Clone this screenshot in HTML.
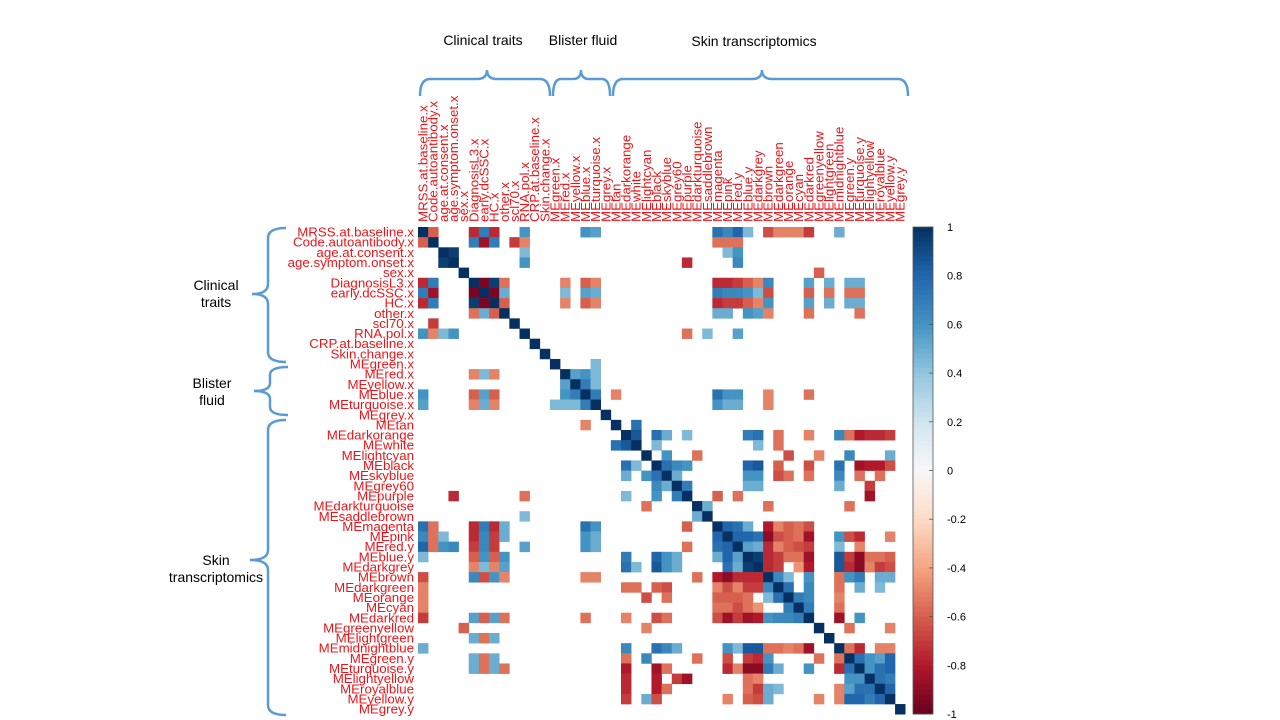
<!DOCTYPE html>
<html><head><meta charset="utf-8">
<style>
html,body{margin:0;padding:0;background:#fff;}
body{width:1280px;height:720px;overflow:hidden;position:relative;font-family:"Liberation Sans",sans-serif;}
svg{position:absolute;left:0;top:0;}
.ann{font-family:"Liberation Sans",sans-serif;font-size:14px;fill:#000;}
</style></head>
<body>
<svg id="chart" width="1280" height="720" viewBox="0 0 1280 720">
  <g id="cells"></g>
  <g id="rowlabels"></g>
  <g id="collabels"></g>
  <g id="colorbar"></g>
  <g fill="none" stroke="#5B9BD5" stroke-width="2.5">
    <path d="M420,96 Q420,79 430,79 L477,79 Q487,79 487,70 Q487,79 497,79 L540,79 Q550,79 550,96"/>
    <path d="M553,96 Q553,79 561,79 L573,79 Q581,79 581,70 Q581,79 589,79 L602,79 Q610,79 610,96"/>
    <path d="M613,96 Q613,79 623,79 L752,79 Q762,79 762,70 Q762,79 772,79 L898,79 Q908,79 908,96"/>
    <path d="M286,228 Q268,228 268,238 L268,284 Q268,294 252,294 Q268,294 268,304 L268,352 Q268,362 286,362"/>
    <path d="M288,367 Q270,367 270,375 L270,383 Q270,391 254,391 Q270,391 270,399 L270,407 Q270,415 288,415"/>
    <path d="M286,420 Q268,420 268,430 L268,550 Q268,560 250,560 Q268,560 268,570 L268,705 Q268,715 286,715"/>
  </g>
  <text class="ann" x="483" y="45" text-anchor="middle">Clinical traits</text>
  <text class="ann" x="583" y="45" text-anchor="middle">Blister fluid</text>
  <text class="ann" x="754" y="46" text-anchor="middle">Skin transcriptomics</text>
  <text class="ann" x="216" y="290" text-anchor="middle">Clinical<tspan x="216" dy="17">traits</tspan></text>
  <text class="ann" x="212" y="388" text-anchor="middle">Blister<tspan x="212" dy="17">fluid</tspan></text>
  <text class="ann" x="216" y="565" text-anchor="middle">Skin<tspan x="216" dy="17">transcriptomics</tspan></text>
</svg>
<script>
const labels = ["MRSS.at.baseline.x","Code.autoantibody.x","age.at.consent.x","age.symptom.onset.x","sex.x","DiagnosisL3.x","early.dcSSC.x","HC.x","other.x","scl70.x","RNA.pol.x","CRP.at.baseline.x","Skin.change.x",
"MEgreen.x","MEred.x","MEyellow.x","MEblue.x","MEturquoise.x","MEgrey.x",
"MEtan","MEdarkorange","MEwhite","MElightcyan","MEblack","MEskyblue","MEgrey60","MEpurple","MEdarkturquoise","MEsaddlebrown","MEmagenta","MEpink","MEred.y","MEblue.y","MEdarkgrey","MEbrown","MEdarkgreen","MEorange","MEcyan","MEdarkred","MEgreenyellow","MElightgreen","MEmidnightblue","MEgreen.y","MEturquoise.y","MElightyellow","MEroyalblue","MEyellow.y","MEgrey.y"];
const rowIdx = [0,0,0,0,0,0,0,0,0,0,0,0,0,0,0,0,0, 1,1,1,1,1,1,1,1, 2,2,2,2, 3,3,3, 4, 5,5,5,5,5,5,5,5,5,5,5,5,5,5,5,5, 6,6,6,6,6,6,6,6,6,6,6,6,6,6,6, 7,7,7,7,7,7,7,7,7,7,7,7,7,7, 8,8,8,8,8,8,8, 10,10,10,
13,14,14,14,15,15,16,16,16,16,16,16,16,17,17,17,17,
19,20,20,20,20,20,20,20,20,20,20,20,20,20,20, 21,21,21, 22,22,22,22,22,22, 23,23,23,23,23,23,23,23,23,23,23,23, 24,24,24,24,24,24,24,24,24, 25,25,25,25,25, 26,26,26, 27,27,27,
29,29,29,29,29,29,29,29, 30,30,30,30,30,30,30,30,30,30,30,30, 31,31,31,31,31,31,31,31,31, 32,32,32,32,32,32,32,32,32,32,32,32, 33,33,33,33,33,33,33,33,33,33, 34,34,34,34,34,34,34,34, 35,35,35,35,35, 36,36,36, 37,37, 38,38, 39,39, 41,41,41,41, 42,42,42,42, 43,43,43, 44,44, 45];
const colIdx = [1,5,6,7,10,16,17,29,30,31,32,34,35,36,37,38,41, 5,6,7,9,10,29,30,31, 3,10,30,31, 10,26,31, 39, 6,7,8,14,16,17,29,30,31,32,33,34,38,40,42,43, 7,8,14,16,17,29,30,31,32,33,34,38,40,42,43, 8,14,16,17,29,30,31,32,33,34,38,40,42,43, 29,30,32,33,34,38,43, 26,28,31,
17,15,16,17,16,17,17,19,29,30,31,34,38,29,30,31,34,
21,21,23,24,26,32,33,35,38,41,42,43,44,45,46, 23,33,35, 24,27,36,39,42,46, 24,25,26,32,33,35,38,41,43,44,45,46, 25,32,33,35,36,38,41,43,45, 26,32,33,41,44, 29,31,44, 28,34,42,
30,31,32,34,35,36,37,38, 31,32,33,34,35,36,37,38,41,42,43,46, 32,33,34,35,36,37,38,41,43, 33,34,35,36,37,38,41,42,43,44,45,46, 34,35,37,38,41,42,43,44,45,46, 35,36,38,41,42,43,45,46, 36,38,41,43,45, 37,38,41, 38,41, 41,43, 42,46, 42,43,45,46, 43,44,45,46, 44,45,46, 45,46, 46];
const corrVals = [-0.6,-0.75,0.7,-0.75,0.6,0.6,0.55,0.75,0.65,0.8,0.45,-0.65,-0.5,-0.5,-0.5,-0.7,0.5, 0.7,-0.85,0.7,-0.7,-0.5,-0.55,-0.55,-0.55, 0.95,0.45,0.45,0.6, 0.6,-0.75,0.65, -0.6,
-0.95,0.95,-0.55,-0.5,-0.6,-0.5,-0.75,-0.75,-0.7,-0.6,-0.5,0.65,0.55,0.5,0.5,0.5,
-0.95,0.5,0.45,0.55,0.5,0.7,0.65,0.65,0.6,0.45,-0.65,-0.6,-0.55,-0.55,-0.55,
-0.6,-0.5,-0.6,-0.5,-0.75,-0.7,-0.7,-0.6,-0.5,0.6,0.55,0.5,0.5,0.5,
0.5,0.5,0.6,0.55,-0.5,-0.55,-0.55, -0.55,0.45,0.55,
0.45,0.55,0.6,0.45,0.7,0.45,0.7,-0.5,0.75,0.6,0.6,-0.5,-0.55,0.6,0.5,0.5,-0.5,
0.75,0.85,0.75,0.5,0.45,0.7,0.75,-0.55,-0.5,0.65,-0.55,-0.8,-0.75,-0.75,-0.7, 0.45,0.45,-0.55, 0.6,-0.55,-0.65,-0.5,0.65,0.5,
0.75,0.65,0.6,0.8,0.85,-0.6,-0.65,0.75,-0.85,-0.8,-0.8,-0.65, 0.5,0.6,0.6,-0.65,-0.55,-0.55,0.65,-0.55,-0.55, 0.7,0.5,0.5,0.5,-0.7, -0.6,-0.55,-0.85, 0.5,-0.55,-0.55,
0.8,0.75,0.5,-0.8,-0.5,-0.6,-0.55,-0.65, 0.8,0.8,0.75,-0.9,-0.65,-0.6,-0.55,-0.85,0.6,-0.65,-0.75,-0.5,
0.55,0.5,-0.75,-0.5,-0.6,-0.65,-0.7,0.45,-0.5, 0.95,-0.75,-0.7,-0.55,-0.55,-0.85,0.85,-0.7,-0.9,-0.55,-0.55,-0.6,
-0.75,-0.7,-0.45,-0.8,0.85,-0.75,-0.9,-0.5,-0.7,-0.65, 0.65,0.45,0.6,-0.55,0.6,0.7,0.5,0.5, 0.75,0.65,-0.55,0.5,0.45, 0.7,0.65,-0.5, 0.7,-0.55, -0.85,0.6, -0.55,-0.5,
-0.55,-0.75,-0.5,-0.5, 0.75,0.6,0.55,0.8, 0.6,0.75,0.8, 0.75,0.7, 0.8];
const tickVals = [1,0.8,0.6,0.4,0.2,0,-0.2,-0.4,-0.6,-0.8,-1];

const NS="http://www.w3.org/2000/svg";
const X0=418, Y0=227, CELL=10.15, N=labels.length;
const xPos = c => X0 + c*CELL;
const yPos = r => Y0 + r*CELL;
const stops=[[-1,[103,0,31]],[-0.8,[178,24,43]],[-0.6,[214,96,77]],[-0.4,[244,165,130]],[-0.2,[253,219,199]],[0,[247,247,247]],[0.2,[209,229,240]],[0.4,[146,197,222]],[0.6,[67,147,195]],[0.8,[33,102,172]],[1,[5,48,97]]];
function color(v){
  v=Math.max(-1,Math.min(1,v));
  for(let i=0;i<stops.length-1;i++){
    const [a,ca]=stops[i],[b,cb]=stops[i+1];
    if(v>=a&&v<=b){const t=(v-a)/(b-a);return "rgb("+ca.map((x,k)=>Math.round(x+(cb[k]-x)*t)).join(",")+")";}
  }
  return "rgb(5,48,97)";
}
const M=[];
for(let i=0;i<N;i++){M.push(new Array(N).fill(0));M[i][i]=1;}
for(let k=0;k<corrVals.length;k++){M[rowIdx[k]][colIdx[k]]=corrVals[k];M[colIdx[k]][rowIdx[k]]=corrVals[k];}

const cells=document.getElementById('cells');
for(let r=0;r<N;r++)for(let c=0;c<N;c++){
  const v=M[r][c]; if(v===0) continue;
  const rect=document.createElementNS(NS,'rect');
  
  
  rect.setAttribute('x',xPos(c));rect.setAttribute('y',yPos(r));
  rect.setAttribute('width',CELL+0.3);rect.setAttribute('height',CELL+0.3);
  rect.setAttribute('fill',color(v));
  cells.appendChild(rect);
}
const rl=document.getElementById('rowlabels'), cl=document.getElementById('collabels');
labels.forEach((lab,i)=>{
  const t=document.createElementNS(NS,'text');
  
  
  t.setAttribute('x',414);t.setAttribute('y',yPos(i)+CELL/2+4.5);
  t.setAttribute('text-anchor','end');t.setAttribute('font-size','13.3');t.setAttribute('fill','#E8161B');
  t.setAttribute('font-family','Liberation Sans, sans-serif');
  t.textContent=lab; rl.appendChild(t);
  const u=document.createElementNS(NS,'text');
  
  
  const cx=xPos(i)+CELL/2+4.5;
  u.setAttribute('transform','translate('+cx+',222) rotate(-90)');
  u.setAttribute('font-size','13.3');u.setAttribute('fill','#E8161B');
  u.setAttribute('font-family','Liberation Sans, sans-serif');
  u.textContent=lab; cl.appendChild(u);
});
const cb=document.getElementById('colorbar');
const CBX=913, CBW=20, CBT=227, CBB=714;
const cbY = v => CBT + (1-v)/2*(CBB-CBT);
for(let k=0;k<100;k++){
  const v=1-k*0.02;
  const r=document.createElementNS(NS,'rect');
  
  
  r.setAttribute('x',CBX);r.setAttribute('y',cbY(v));r.setAttribute('width',CBW);
  r.setAttribute('height',(CBB-CBT)/100+0.5);r.setAttribute('fill',color(v-0.01));
  cb.appendChild(r);
}
const frame=document.createElementNS(NS,'rect');


frame.setAttribute('x',CBX);frame.setAttribute('y',CBT);frame.setAttribute('width',CBW);frame.setAttribute('height',CBB-CBT);
frame.setAttribute('fill','none');frame.setAttribute('stroke','#555');frame.setAttribute('stroke-width','0.8');
cb.appendChild(frame);
tickVals.forEach(v=>{
  const t=document.createElementNS(NS,'text');
  
  
  t.setAttribute('x',947);t.setAttribute('y',cbY(v)+4);
  t.setAttribute('font-size','11');t.setAttribute('fill','#000');
  t.setAttribute('font-family','Liberation Sans, sans-serif');
  t.textContent=String(v); cb.appendChild(t);
  const l=document.createElementNS(NS,'line');
  
  
  l.setAttribute('x1',CBX+CBW-4);l.setAttribute('x2',CBX+CBW);l.setAttribute('y1',cbY(v));l.setAttribute('y2',cbY(v));
  l.setAttribute('stroke','#555');l.setAttribute('stroke-width','0.8');
  cb.appendChild(l);
});
</script>
</body></html>
